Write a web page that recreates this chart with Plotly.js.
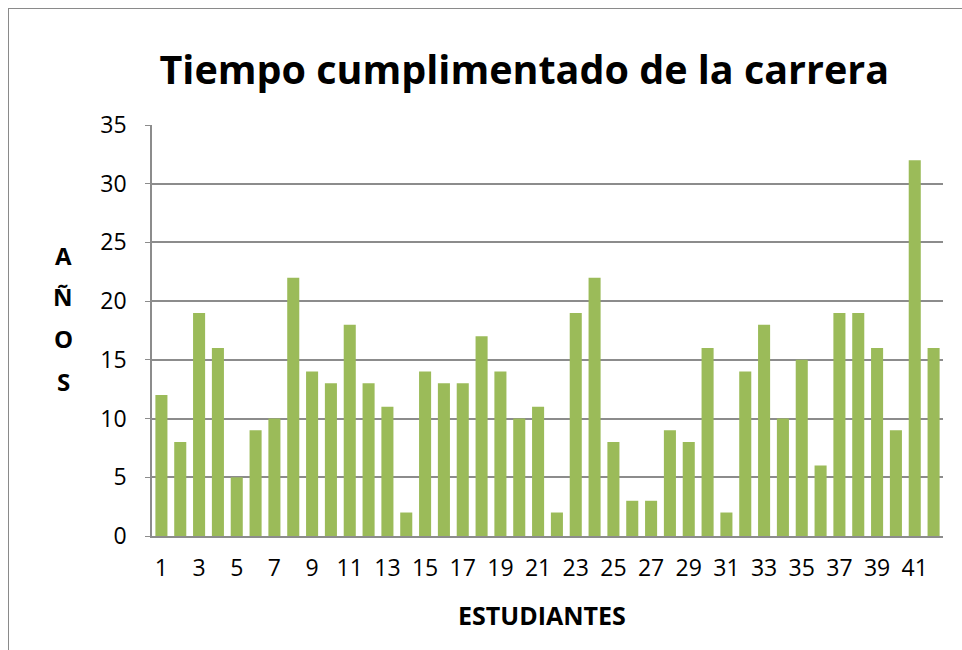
<!DOCTYPE html>
<html>
<head>
<meta charset="utf-8">
<script src="https://cdn.plot.ly/plotly-3.0.1.min.js"></script>
<style>
html,body{margin:0;padding:0;background:#fff;overflow:hidden;}
#frame{position:absolute;left:8px;top:8px;width:1000px;height:700px;border:1.5px solid #8a8a8a;box-sizing:border-box;}
#chart{position:absolute;left:0;top:0;width:962px;height:650px;}
</style>
</head>
<body>
<div id="frame"></div>
<div id="chart"></div>
<script>
const estudiantes = [1,2,3,4,5,6,7,8,9,10,11,12,13,14,15,16,17,18,19,20,21,22,23,24,25,26,27,28,29,30,31,32,33,34,35,36,37,38,39,40,41,42];
const anos = [12,8,19,16,5,9,10,22,14,13,18,13,11,2,14,13,13,17,14,10,11,2,19,22,8,3,3,9,8,16,2,14,18,10,15,6,19,19,16,9,32,16];
const xTicks = [1,3,5,7,9,11,13,15,17,19,21,23,25,27,29,31,33,35,37,39,41];
const yTicks = [0,5,10,15,20,25,30,35];

const font = "Open Sans, Lato, sans-serif";
Plotly.newPlot('chart', [{
  type: 'bar',
  x: estudiantes,
  y: anos,
  marker: {color: '#9BBB59'},
  hoverinfo: 'x+y'
}], {
  width: 962, height: 650,
  paper_bgcolor: 'rgba(0,0,0,0)',
  plot_bgcolor: 'rgba(0,0,0,0)',
  margin: {l: 152, r: 19, t: 125, b: 114},
  bargap: 0.36,
  showlegend: false,
  title: {text: '<b>Tiempo cumplimentado de la carrera</b>', x: 0.545, xanchor: 'center', y: 0.892, yanchor: 'middle',
          font: {family: font, size: 39.5, color: '#000'}},
  xaxis: {
    range: [0.5, 42.5],
    tickvals: xTicks, ticktext: xTicks.map(String),
    showgrid: false, zeroline: false,
    showline: true, linecolor: '#8c8c8c', linewidth: 2,
    ticks: '', ticklen: 0, ticklabelstandoff: 10,
    tickfont: {family: font, size: 23, color: '#000'},
    fixedrange: true
  },
  yaxis: {
    range: [0, 35],
    tickvals: yTicks,
    showgrid: true, gridcolor: '#8c8c8c', gridwidth: 1.5,
    zeroline: false,
    showline: true, linecolor: '#8c8c8c', linewidth: 1.5,
    ticks: 'outside', ticklen: 5, tickcolor: '#8c8c8c', ticklabelstandoff: 14,
    tickfont: {family: font, size: 23, color: '#000'},
    fixedrange: true
  },
  annotations: [
    {text: '<b>ESTUDIANTES</b>', xref: 'paper', yref: 'paper', x: 0.493, y: -0.193, showarrow: false,
     xanchor: 'center', yanchor: 'middle', font: {family: font, size: 25, color: '#000'}},
    {text: '<b>A</b>', xref: 'paper', yref: 'paper', x: -0.112, y: 0.683, showarrow: false, xanchor: 'center', yanchor: 'middle', font: {family: font, size: 24, color: '#000'}},
    {text: '<b>Ñ</b>', xref: 'paper', yref: 'paper', x: -0.112, y: 0.582, showarrow: false, xanchor: 'center', yanchor: 'middle', font: {family: font, size: 24, color: '#000'}},
    {text: '<b>O</b>', xref: 'paper', yref: 'paper', x: -0.112, y: 0.480, showarrow: false, xanchor: 'center', yanchor: 'middle', font: {family: font, size: 24, color: '#000'}},
    {text: '<b>S</b>', xref: 'paper', yref: 'paper', x: -0.112, y: 0.377, showarrow: false, xanchor: 'center', yanchor: 'middle', font: {family: font, size: 24, color: '#000'}}
  ]
}, {displayModeBar: false, staticPlot: false});
</script>
</body>
</html>
